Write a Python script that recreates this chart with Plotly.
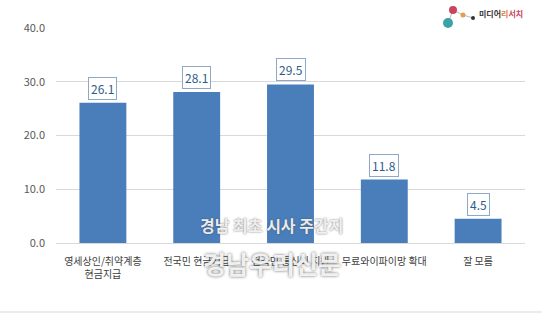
import plotly.graph_objects as go

categories = ["영세상인/취약계층<br>현금지급", "전국민 현금지급", "전국민 통신비 지원", "무료와이파이망 확대", "잘 모름"]
values = [26.1, 28.1, 29.5, 11.8, 4.5]
y_ticks = [0, 10, 20, 30, 40]

font_family = "Noto Sans CJK KR, Malgun Gothic, sans-serif"

fig = go.Figure()
fig.add_trace(go.Bar(
    x=categories, y=values,
    marker=dict(color="#4A7EBB", line=dict(width=0)),
    width=0.5,
))

for c, v in zip(categories, values):
    fig.add_annotation(
        x=c, y=v, yref="y", xref="x", text=f"{v:.1f}",
        showarrow=False, yanchor="bottom", yshift=3,
        font=dict(size=12, color="#2E5C8A", family=font_family),
        bgcolor="white", bordercolor="#8EA9C8", borderwidth=1, borderpad=2,
    )

def px(xp):
    return (xp - 56) / 469

def py(yp):
    return (243 - yp) / 215

# watermark
fig.add_annotation(x=px(271), y=py(225), xref="paper", yref="paper",
                   xanchor="center", yanchor="middle",
                   text="<b>경남 최초 시사 주간지</b>", showarrow=False,
                   font=dict(size=16, color="rgba(250,250,250,0.92)", family=font_family,
                             shadow="0px 0px 2px rgba(70,70,70,0.9)"))
fig.add_annotation(x=px(272), y=py(263), xref="paper", yref="paper",
                   xanchor="center", yanchor="middle",
                   text="<b>경남우리신문</b>", showarrow=False,
                   font=dict(size=25, color="rgba(250,250,250,0.92)", family=font_family,
                             shadow="0px 0px 3px rgba(70,70,70,0.9)"))

# logo
fig.add_shape(type="path", xref="paper", yref="paper",
              path=f"M {px(448)} {py(23)} L {px(453)} {py(10)} L {px(463)} {py(15)} L {px(473)} {py(18)}",
              line=dict(color="#BBBBBB", width=1))
for cx, cy, r, col in [(453, 10, 4, "#C8455E"), (448, 23, 5, "#3AA3A8"), (463, 15, 2.5, "#E0A050"), (473, 18, 2, "#333333")]:
    fig.add_shape(type="circle", xref="paper", yref="paper",
                  x0=px(cx - r), x1=px(cx + r), y0=py(cy + r), y1=py(cy - r),
                  fillcolor=col, line=dict(width=0))
fig.add_annotation(x=px(477), y=py(14), xref="paper", yref="paper", xanchor="left", yanchor="middle",
                   text="<b><span style='color:#333'>미디어</span><span style='color:#E08040'>리</span><span style='color:#C8455E'>서치</span></b>",
                   showarrow=False, font=dict(size=8, family=font_family))

# bottom border line
fig.add_shape(type="line", xref="paper", yref="paper", x0=-0.12, x1=1.04, y0=py(312), y1=py(312),
              line=dict(color="#D9D9D9", width=1))

fig.update_layout(
    width=542, height=314,
    margin=dict(l=56, r=17, t=28, b=71),
    paper_bgcolor="white", plot_bgcolor="white",
    showlegend=False,
    font=dict(family=font_family, color="#595959"),
    bargap=0.5,
    xaxis=dict(showline=True, linecolor="#D9D9D9", tickfont=dict(size=10, color="#404040"),
               ticks="", showgrid=False, ticklabelstandoff=9),
    yaxis=dict(range=[0, 40], tickvals=y_ticks, tickformat=".1f", showgrid=True,
               gridcolor="#D9D9D9", zeroline=False, ticks="", ticklabelstandoff=10,
               tickfont=dict(size=11, color="#595959")),
)

fig.write_html("out.html")
